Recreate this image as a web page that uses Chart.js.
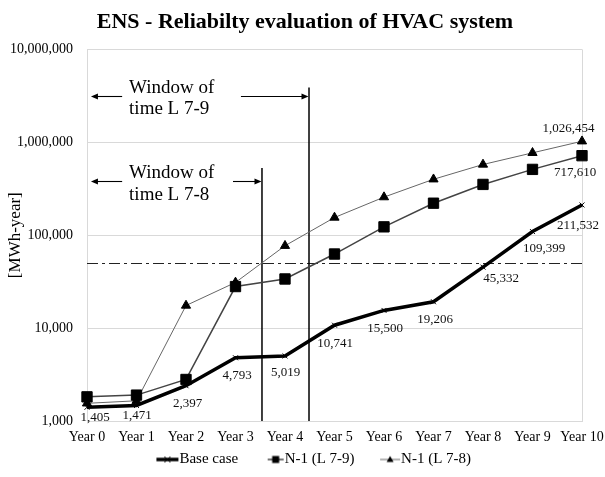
<!DOCTYPE html>
<html>
<head>
<meta charset="utf-8">
<script src="https://cdn.jsdelivr.net/npm/chart.js@4.4.1/dist/chart.umd.min.js"></script>
<style>
html,body{margin:0;padding:0;background:#fff}
#wrap{width:605px;height:477px;position:relative}
</style>
</head>
<body>
<div id="wrap"><canvas id="c"></canvas></div>
<script>
// ---- data ----
const categories = ['Year 0','Year 1','Year 2','Year 3','Year 4','Year 5','Year 6','Year 7','Year 8','Year 9','Year 10'];
const baseCase = [1405,1471,2397,4793,5019,10741,15500,19206,45332,109399,211532];
const n1L79 = [1820,1900,2800,28000,33800,62700,123000,221000,352000,511000,717610];
const n1L78 = [1550,1650,17500,31000,77000,155000,257000,400000,577000,770000,1026454];
const yTicks = [1000,10000,100000,1000000,10000000];
const seriesNames = ['Base case','N-1 (L 7-9)','N-1 (L 7-8)'];
const thresholdValue = 50000;
const windowTexts = [['Window of','time L 7-9'],['Window of','time L 7-8']];
const titleText = 'ENS - Reliabilty evaluation of HVAC system';
const yTitle = '[MWh-year]';

const SERIF = "'Liberation Serif', 'Times New Roman', serif";
const fmt = v => v.toLocaleString('en-US');

// which points carry value labels, and where the label sits relative to the point (px)
const labelSpots = [
  {ds:0,i:0,dx:8,dy:10},{ds:0,i:1,dx:0.5,dy:10},{ds:0,i:2,dx:1.5,dy:17.5},{ds:0,i:3,dx:1.5,dy:18},
  {ds:0,i:4,dx:0.5,dy:17},{ds:0,i:5,dx:0.5,dy:18},{ds:0,i:6,dx:1,dy:18},{ds:0,i:7,dx:1.5,dy:18},
  {ds:0,i:8,dx:18,dy:11},{ds:0,i:9,dx:11.5,dy:17},{ds:0,i:10,dx:-4,dy:21},
  {ds:1,i:10,dx:-7,dy:17},{ds:2,i:10,dx:-13.5,dy:-13}
];

// annotation geometry in data coordinates (x: category index, y: value)
const windowsGeom = [
  {lineX:4.485, lineTop:3.9e6, arrowY:3.12e6, leftArrow:[0.71,0.08], rightArrow:[3.11,4.485], textX:0.85, textY:[3.38e6,2.0e6]},
  {lineX:3.535, lineTop:5.3e5, arrowY:3.83e5, leftArrow:[0.71,0.08], rightArrow:[2.95,3.535], textX:0.85, textY:[4.12e5,2.39e5]}
];

const LEG_BOX = 33, LEG_FONT = 15;
function makeIcon(kind){
  const W = LEG_BOX + LEG_FONT; // canvas centred on box centre; right edge touches text start
  const c = document.createElement('canvas');
  c.width = W; c.height = 12;
  const g = c.getContext('2d');
  const cy = 6, r = W - 1;
  if(kind === 0){
    g.strokeStyle = '#000'; g.lineWidth = 3.5;
    g.beginPath(); g.moveTo(r-22,cy); g.lineTo(r,cy); g.stroke();
    g.lineWidth = 1; const mx = r-11;
    g.beginPath(); g.moveTo(mx-3,cy-3); g.lineTo(mx+3,cy+3); g.moveTo(mx+3,cy-3); g.lineTo(mx-3,cy+3); g.stroke();
  } else if(kind === 1){
    g.strokeStyle = '#444'; g.lineWidth = 1.5;
    g.beginPath(); g.moveTo(r-16,cy); g.lineTo(r,cy); g.stroke();
    g.fillStyle = '#000'; g.fillRect(r-11.5,cy-3.5,7,7);
  } else {
    g.strokeStyle = '#666'; g.lineWidth = 1;
    g.beginPath(); g.moveTo(r-20,cy); g.lineTo(r,cy); g.stroke();
    g.fillStyle = '#000'; const mx = r-10;
    g.beginPath(); g.moveTo(mx,cy-3.5); g.lineTo(mx+3.5,cy+2.5); g.lineTo(mx-3.5,cy+2.5); g.closePath(); g.fill();
  }
  return c;
}
const legendIcons = [makeIcon(0), makeIcon(1), makeIcon(2)];

function arrow(ctx, x1, y, x2){
  const dir = x2 > x1 ? 1 : -1;
  ctx.beginPath(); ctx.moveTo(x1, y); ctx.lineTo(x2 - dir*6, y); ctx.stroke();
  ctx.beginPath(); ctx.moveTo(x2, y); ctx.lineTo(x2 - dir*7, y-3); ctx.lineTo(x2 - dir*7, y+3); ctx.closePath(); ctx.fill();
}

const annotPlugin = {
  id: 'annot',
  beforeDatasetsDraw(chart){
    const {ctx, chartArea:a, scales:{x,y}} = chart;
    ctx.save();
    // right border of plot
    ctx.strokeStyle = '#d9d9d9'; ctx.lineWidth = 1;
    ctx.beginPath(); ctx.moveTo(Math.round(a.right)+0.5, a.top); ctx.lineTo(Math.round(a.right)+0.5, a.bottom); ctx.stroke();
    // threshold dash-dot line
    const ty = Math.round(y.getPixelForValue(thresholdValue)) + 0.5;
    ctx.strokeStyle = '#222'; ctx.lineWidth = 1; ctx.setLineDash([11,4,3,4]);
    ctx.beginPath(); ctx.moveTo(a.left, ty); ctx.lineTo(a.right, ty); ctx.stroke();
    ctx.setLineDash([]);
    // windows
    ctx.strokeStyle = '#000'; ctx.fillStyle = '#000';
    windowsGeom.forEach((w, k) => {
      const lx = x.getPixelForValue(w.lineX);
      ctx.lineWidth = 1.5;
      ctx.beginPath(); ctx.moveTo(lx, y.getPixelForValue(w.lineTop)); ctx.lineTo(lx, a.bottom); ctx.stroke();
      ctx.lineWidth = 1.1;
      const ay = Math.round(y.getPixelForValue(w.arrowY)) + 0.5;
      arrow(ctx, x.getPixelForValue(w.leftArrow[0]), ay, x.getPixelForValue(w.leftArrow[1]));
      arrow(ctx, x.getPixelForValue(w.rightArrow[0]), ay, x.getPixelForValue(w.rightArrow[1]) - 0.5);
      ctx.font = '19px ' + SERIF; ctx.textAlign = 'left'; ctx.textBaseline = 'alphabetic';
      windowTexts[k].forEach((t, j) => ctx.fillText(t, x.getPixelForValue(w.textX), y.getPixelForValue(w.textY[j])));
    });
    ctx.restore();
  },
  afterDatasetsDraw(chart){
    const {ctx} = chart;
    ctx.save();
    ctx.font = '13px ' + SERIF; ctx.fillStyle = '#111';
    ctx.textAlign = 'center'; ctx.textBaseline = 'middle';
    labelSpots.forEach(s => {
      const el = chart.getDatasetMeta(s.ds).data[s.i];
      const v = chart.data.datasets[s.ds].data[s.i];
      ctx.fillText(fmt(v), el.x + s.dx, el.y + s.dy);
    });
    ctx.restore();
  }
};

new Chart(document.getElementById('c'), {
  type: 'line',
  data: {
    labels: categories,
    datasets: [
      {label: seriesNames[0], data: baseCase, borderColor:'#000', borderWidth:3.5, pointStyle:'crossRot', pointRadius:3.5, pointBorderWidth:1, pointBorderColor:'#000', pointBackgroundColor:'#000', tension:0},
      {label: seriesNames[1], data: n1L79, borderColor:'#444', borderWidth:1.5, pointStyle:'rect', pointRadius:7.3, pointBorderWidth:1, pointBorderColor:'#000', pointBackgroundColor:'#000', tension:0},
      {label: seriesNames[2], data: n1L78, borderColor:'#666', borderWidth:1, pointStyle:'triangle', pointRadius:5.3, pointBorderWidth:1, pointBorderColor:'#000', pointBackgroundColor:'#000', tension:0}
    ]
  },
  options: {
    responsive: true, maintainAspectRatio: false, animation: false, devicePixelRatio: 1,
    layout: {padding: {left: 5, right: 0, top: 0, bottom: 0}},
    scales: {
      x: {
        type: 'category', offset: false,
        afterFit: s => { s.height = 25; s.paddingLeft = 0; s.paddingRight = 23; },
        grid: {display: false, drawTicks: false},
        border: {display: true, color: '#d9d9d9'},
        ticks: {font: {family: SERIF, size: 14}, color: '#000', padding: 8, maxRotation: 0, autoSkip: false}
      },
      y: {
        type: 'logarithmic', min: 1000, max: 10000000,
        afterBuildTicks: s => { s.ticks = yTicks.map(v => ({value: v})); },
        afterFit: s => { s.width = 82; },
        grid: {color: '#d9d9d9', drawTicks: false},
        border: {display: true, color: '#d9d9d9'},
        ticks: {font: {family: SERIF, size: 14}, color: '#000', padding: 14, callback: v => fmt(v)},
        title: {display: true, text: yTitle, font: {family: SERIF, size: 17}, color: '#000', padding: {top: 0, bottom: 0}}
      }
    },
    plugins: {
      title: {display: true, text: titleText, color: '#000', font: {family: SERIF, size: 22, weight: 'bold'}, padding: {top: 9, bottom: 14}},
      legend: {
        position: 'bottom',
        labels: {
          usePointStyle: true, pointStyleWidth: LEG_BOX, boxHeight: 12, padding: 6,
          font: {family: SERIF, size: LEG_FONT}, color: '#000',
          generateLabels(chart){
            const items = Chart.defaults.plugins.legend.labels.generateLabels(chart);
            items.forEach((it, i) => { it.pointStyle = legendIcons[i]; });
            return items;
          }
        }
      },
      tooltip: {enabled: false}
    }
  },
  plugins: [annotPlugin]
});
</script>
</body>
</html>
